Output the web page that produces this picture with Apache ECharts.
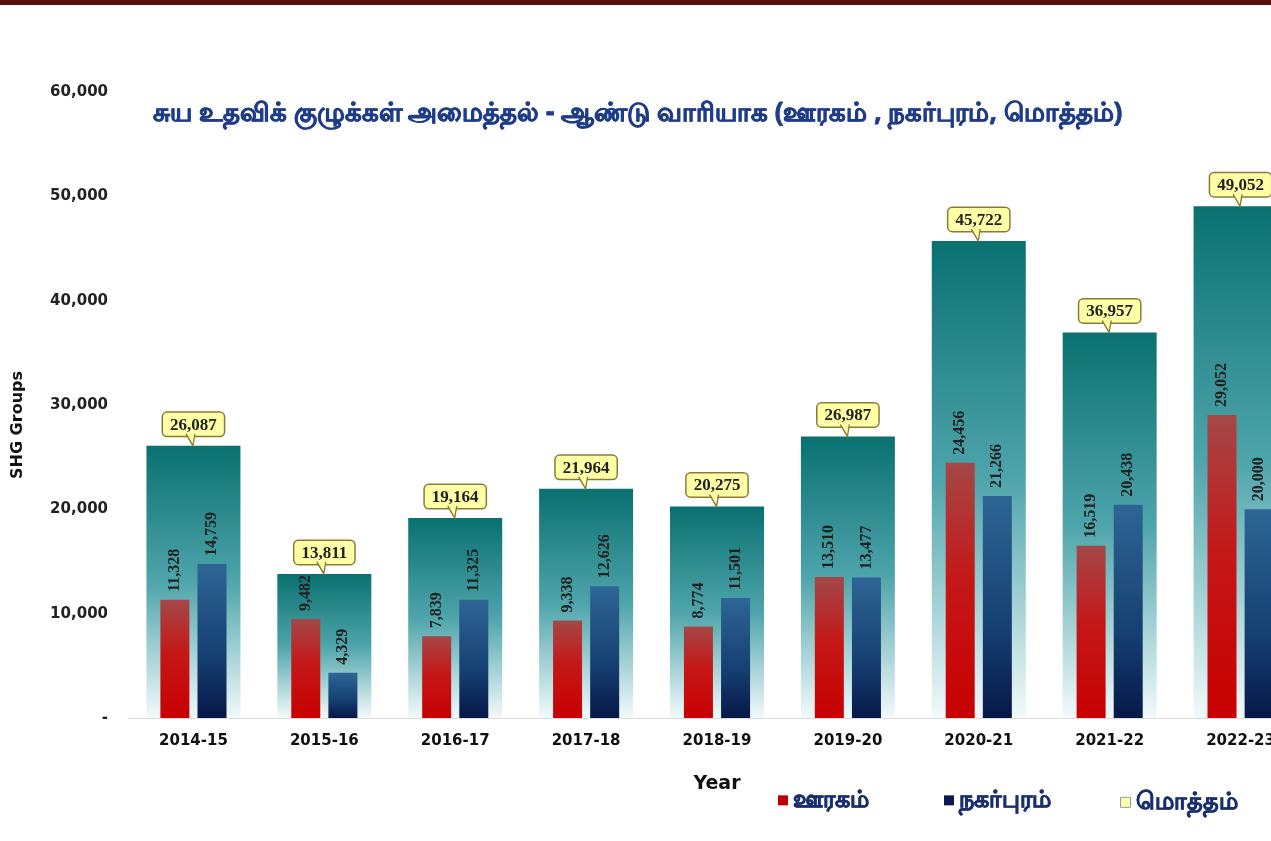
<!DOCTYPE html>
<html>
<head>
<meta charset="utf-8">
<script src="https://cdn.jsdelivr.net/npm/echarts@6/dist/echarts.min.js"></script>
<style>
  html, body { margin: 0; padding: 0; overflow: hidden; background: #fff; }
  #main { width: 1320px; height: 841px; }
</style>
</head>
<body>
<div id="main"></div>
<script>
var years = ['2014-15', '2015-16', '2016-17', '2017-18', '2018-19', '2019-20', '2020-21', '2021-22', '2022-23'];
var rural = [11328, 9482, 7839, 9338, 8774, 13510, 24456, 16519, 29052];
var urban = [14759, 4329, 11325, 12626, 11501, 13477, 21266, 20438, 20000];
var total = [26087, 13811, 19164, 21964, 20275, 26987, 45722, 36957, 49052];

function fmt(v) {
    return v === 0 ? '-' : v.toLocaleString('en-US');
}

var myChart = echarts.init(document.getElementById('main'));

// legend text style (tamil font has no real bold, so fake it with a stroke)
var legendText = {
    color: '#1a2f6e', fontSize: 24, fontWeight: 'bold', fontFamily: 'Noto Sans, sans-serif',
    textBorderColor: '#1a2f6e', textBorderWidth: 0.7
};

var option = {
    backgroundColor: '#fff',
    title: {
        text: 'சுய உதவிக் குழுக்கள் அமைத்தல் - ஆண்டு வாரியாக (ஊரகம் , நகர்புரம், மொத்தம்)',
        left: 148,
        top: 96,
        textStyle: {
            color: '#1f3c88', fontSize: 26, fontWeight: 'bold', fontFamily: 'Noto Sans, sans-serif',
            textBorderColor: '#1f3c88', textBorderWidth: 0.8
        }
    },
    graphic: [
        { type: 'rect', shape: { x: 0, y: 0, width: 1320, height: 5 }, style: { fill: '#5c0e0e' } },
        {
            type: 'text', x: 18, y: 425, rotation: Math.PI / 2,
            style: { text: 'SHG Groups', fill: '#111', font: 'bold 16px DejaVu Sans', align: 'center', verticalAlign: 'middle' }
        }
    ],
    legend: [
        {
            left: 773, top: 783, itemWidth: 10, itemHeight: 10, icon: 'rect', textStyle: legendText,
            data: [{ name: 'ஊரகம்', itemStyle: { color: '#c00000' } }]
        },
        {
            left: 939, top: 783, itemWidth: 10, itemHeight: 10, icon: 'rect', textStyle: legendText,
            data: [{ name: 'நகர்புரம்', itemStyle: { color: '#0a1a50' } }]
        },
        {
            left: 1115, top: 785, itemWidth: 10, itemHeight: 10, icon: 'rect', textStyle: legendText,
            data: [{ name: 'மொத்தம்', itemStyle: { color: '#ffffb0', borderColor: '#999', borderWidth: 1 } }]
        }
    ],
    grid: { left: 128, right: 14, top: 92, bottom: 123 },
    xAxis: [
        {
            type: 'category',
            data: years,
            name: 'Year',
            nameLocation: 'middle',
            nameGap: 57,
            nameTextStyle: { color: '#111', fontSize: 19, fontWeight: 'bold', fontFamily: 'DejaVu Sans' },
            axisLine: { lineStyle: { color: '#dcdcdc' } },
            axisTick: { show: false },
            axisLabel: { color: '#111', fontSize: 15, fontWeight: 'bold', fontFamily: 'DejaVu Sans', margin: 16 }
        },
        {
            type: 'category',
            data: years,
            show: false
        }
    ],
    yAxis: {
        type: 'value',
        min: 0,
        max: 60000,
        interval: 10000,
        splitLine: { show: false },
        axisLine: { show: false },
        axisTick: { show: false },
        axisLabel: {
            color: '#222', fontSize: 15, fontWeight: 'bold', fontFamily: 'DejaVu Sans', margin: 20,
            formatter: fmt
        }
    },
    series: [
        {
            name: 'மொத்தம்',
            type: 'bar',
            xAxisIndex: 1,
            barWidth: 94,
            z: 1,
            data: total,
            itemStyle: {
                color: new echarts.graphic.LinearGradient(0, 0, 0, 1, [
                    { offset: 0, color: '#0a7070' },
                    { offset: 0.5, color: '#4ea5ab' },
                    { offset: 1, color: '#f2fafb' }
                ])
            },
            label: {
                show: true,
                position: 'top',
                distance: 10,
                formatter: function (p) { return fmt(p.value); },
                color: '#222',
                fontSize: 17,
                fontWeight: 'bold',
                fontFamily: 'Liberation Serif',
                backgroundColor: '#ffffa6',
                borderColor: '#8a7a3a',
                borderWidth: 1.5,
                borderRadius: 4,
                padding: [4, 7, 2, 7]
            },
            // little pointer under each callout
            markPoint: {
                z: 20,
                symbol: 'path://M0,0 L7,10 L9,0',
                symbolSize: [9, 12],
                symbolOffset: [-3, -6],
                label: { show: false },
                itemStyle: { color: '#ffffa6', borderColor: '#8a7a3a', borderWidth: 1.5 },
                data: total.map(function (v, i) { return { coord: [i, v] }; })
            }
        },
        {
            name: 'ஊரகம்',
            type: 'bar',
            barWidth: 29,
            barGap: '28%',
            z: 3,
            data: rural,
            itemStyle: {
                color: new echarts.graphic.LinearGradient(0, 0, 0, 1, [
                    { offset: 0, color: '#a44848' },
                    { offset: 0.45, color: '#c41818' },
                    { offset: 1, color: '#c80000' }
                ])
            },
            label: {
                show: true,
                position: 'top',
                rotate: 90,
                align: 'left',
                verticalAlign: 'middle',
                distance: 8,
                formatter: function (p) { return fmt(p.value); },
                color: '#222',
                fontSize: 16,
                fontWeight: 'bold',
                fontFamily: 'Liberation Serif'
            }
        },
        {
            name: 'நகர்புரம்',
            type: 'bar',
            barWidth: 29,
            barGap: '28%',
            z: 3,
            data: urban,
            itemStyle: {
                color: new echarts.graphic.LinearGradient(0, 0, 0, 1, [
                    { offset: 0, color: '#2d6694' },
                    { offset: 0.6, color: '#163f72' },
                    { offset: 1, color: '#061848' }
                ])
            },
            label: {
                show: true,
                position: 'top',
                rotate: 90,
                align: 'left',
                verticalAlign: 'middle',
                distance: 8,
                formatter: function (p) { return fmt(p.value); },
                color: '#222',
                fontSize: 16,
                fontWeight: 'bold',
                fontFamily: 'Liberation Serif'
            }
        }
    ]
};

myChart.setOption(option);
</script>
</body>
</html>
